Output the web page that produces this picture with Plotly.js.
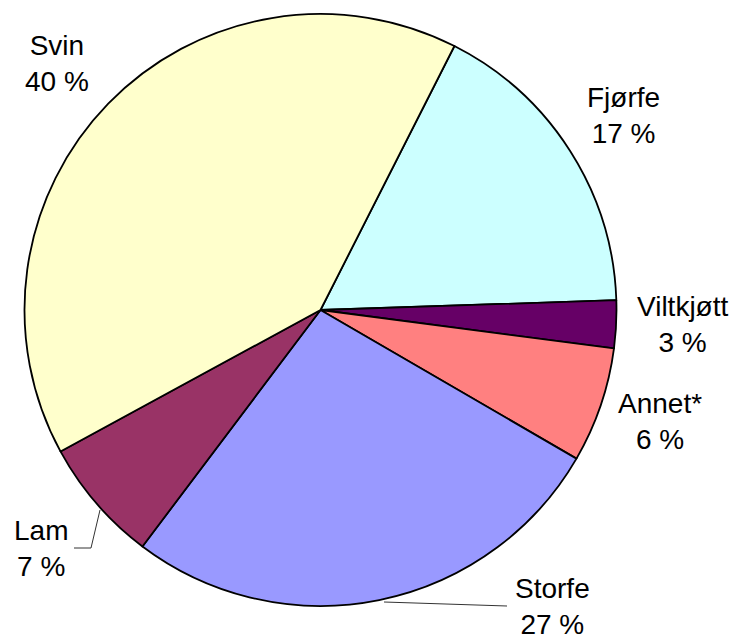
<!DOCTYPE html>
<html>
<head>
<meta charset="utf-8">
<script src="https://cdn.plot.ly/plotly-3.0.1.min.js"></script>
<style>html,body{margin:0;padding:0;background:#fff;}#chart{width:731px;height:636px;}</style>
</head>
<body>
<div id="chart"></div>
<script>
// Data (clockwise from the Svin/Fjørfe boundary)
const categories = ["Fjørfe", "Viltkjøtt", "Annet*", "Storfe", "Lam", "Svin"];
const shares = [17.0, 2.6, 6.3, 26.9, 6.8, 40.4];
const colors = ["#CCFFFF", "#660066", "#FF8080", "#9999FF", "#993366", "#FFFFCC"];

const W = 731, H = 636;
const cx = 320.5, cy = 310, r = 296;
const total = shares.reduce((a, b) => a + b, 0);
const pctText = shares.map(v => Math.round(v / total * 100) + " %");

// label centres (pixels) for the two-line labels
const labelPos = [[623, 116], [682, 324], [660, 421], [552, 606], [41, 548], [57, 64]];

const px = (x, y) => [x / W, 1 - y / H];

const annotations = categories.map((c, i) => {
  const p = px(labelPos[i][0], labelPos[i][1]);
  return {
    x: p[0], y: p[1], xref: "paper", yref: "paper",
    text: c + "<br>" + pctText[i], showarrow: false,
    xanchor: "center", yanchor: "middle", align: "center",
    font: {family: "Liberation Sans, Arial, sans-serif", size: 28, color: "#000"}
  };
});

function pathPx(points) {
  return points.map((p, i) => {
    const q = px(p[0], p[1]);
    return (i === 0 ? "M" : "L") + q[0] + "," + q[1];
  }).join(" ");
}

const shapes = [
  {type: "path", xref: "paper", yref: "paper", path: pathPx([[100, 510], [91, 548], [74, 548]]), line: {color: "#333", width: 1}},
  {type: "path", xref: "paper", yref: "paper", path: pathPx([[384, 602], [507, 606]]), line: {color: "#333", width: 1}}
];

const trace = {
  type: "pie",
  labels: categories,
  values: shares,
  sort: false,
  direction: "clockwise",
  rotation: 26.9,
  textinfo: "none",
  hoverinfo: "label+percent",
  marker: {colors: colors, line: {color: "#000", width: 1.8}},
  domain: {x: [(cx - r) / W, (cx + r) / W], y: [1 - (cy + r) / H, 1 - (cy - r) / H]},
  showlegend: false
};

Plotly.newPlot("chart", [trace], {
  width: W, height: H,
  margin: {l: 0, r: 0, t: 0, b: 0},
  paper_bgcolor: "#fff",
  showlegend: false,
  annotations: annotations,
  shapes: shapes
}, {displayModeBar: false, staticPlot: true});
</script>
</body>
</html>
